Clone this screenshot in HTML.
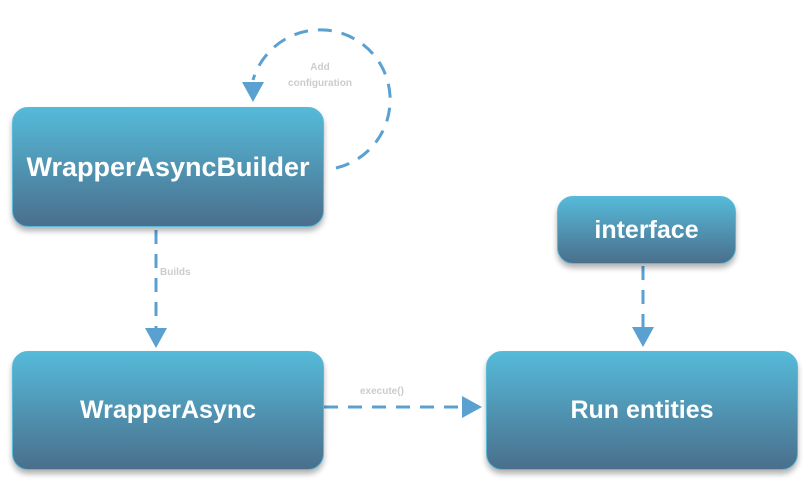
<!DOCTYPE html>
<html><head><style>
body{margin:0;width:810px;height:487px;background:#fff;position:relative;overflow:hidden;font-family:"Liberation Sans",sans-serif}
.b{position:absolute;box-sizing:border-box;border:1.5px solid #5ab8d8;border-radius:16px;background:linear-gradient(#55bad9,#4a6f8c);color:#fff;font-weight:bold;display:flex;align-items:center;justify-content:center;box-shadow:0 4px 6px rgba(0,0,0,.3)}
.l{position:absolute;color:#ccc;font-size:10px;font-weight:bold;text-align:center}
</style></head><body>
<svg width="810" height="487" style="position:absolute;left:0;top:0">
<g stroke="#5aa0d0" stroke-width="3" fill="none" stroke-dasharray="14,10">
<path d="M336 168 A70 70 0 1 0 253 80"/>
<path d="M156 230 L156 330"/>
<path d="M324 407 L462 407"/>
<path d="M643 266 L643 330"/>
</g>
<g fill="#5aa0d0">
<polygon points="242,82 264,82 253,102"/>
<polygon points="145,328 167,328 156,348"/>
<polygon points="462,396 462,418 482,407"/>
<polygon points="632,327 654,327 643,347"/>
</g>
</svg>
<div class="b" style="left:12px;top:107px;width:312px;height:120px;font-size:27px">WrapperAsyncBuilder</div>
<div class="b" style="left:12px;top:351px;width:312px;height:119px;font-size:25px">WrapperAsync</div>
<div class="b" style="left:486px;top:351px;width:312px;height:119px;font-size:25px">Run entities</div>
<div class="b" style="left:557px;top:196px;width:179px;height:68px;font-size:25px">interface</div>
<div class="l" style="left:270px;top:60px;width:100px;line-height:16px">Add<br>configuration</div>
<div class="l" style="left:160px;top:267px">Builds</div>
<div class="l" style="left:360px;top:386px">execute()</div>
</body></html>
